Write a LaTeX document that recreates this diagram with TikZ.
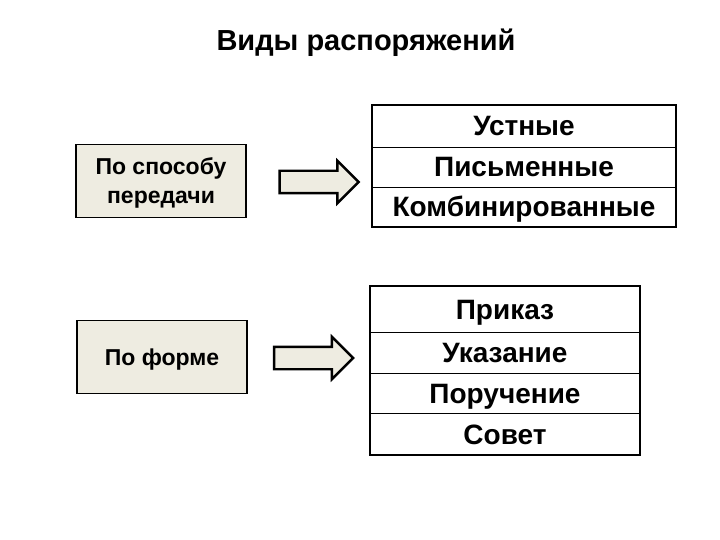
\documentclass[tikz,border=0pt]{standalone}
\usepackage{fontspec}
\setmainfont{Liberation Sans}
\usetikzlibrary{positioning,shapes.arrows}
\definecolor{beige}{RGB}{238,236,225}

\begin{document}
\begin{tikzpicture}[x=1pt, y=-1pt, node distance=0pt,
  every node/.style={align=center, outer sep=0pt},
  kind/.style={draw, line width=1.6pt, fill=beige, minimum width=170pt, minimum height=73pt, text height=16.5pt, text depth=0pt, font=\bfseries\fontsize{23}{29}\selectfont},
  cell/.style={draw, line width=0.8pt, inner sep=0pt, text height=20pt, text depth=0pt, font=\bfseries\fontsize{28}{32}\selectfont},
  bigarrow/.style={single arrow, draw, line width=2.4pt, fill=beige, inner sep=10pt, minimum height=79pt, single arrow head extend=10pt}]

\useasboundingbox (0,0) rectangle (720,540);

% Title
\node[font=\bfseries\fontsize{29}{34}\selectfont] (title) at (366,43) {Виды распоряжений};

% Left boxes
\node[kind, text height=45.5pt] (way) at (161,181) {По способу\\передачи};
\node[kind] (form) at (162,357) {По форме};

% Block arrows
\node[bigarrow] (arr1) at (313.5,182) {};
\node[bigarrow] (arr2) at (308,358) {};

% First table: rows stacked below one another
\node[cell, minimum width=304pt, minimum height=42pt] (oral) at (524,126) {Устные};
\node[cell, minimum width=304pt, minimum height=40pt, below=of oral] (written) {Письменные};
\node[cell, minimum width=304pt, minimum height=40pt, below=of written] (mixed) {Комбинированные};
\draw[line width=1.6pt] (oral.north west) rectangle (mixed.south east);

% Second table
\node[cell, minimum width=270pt, minimum height=46pt] (order) at (505,309) {Приказ};
\node[cell, minimum width=270pt, minimum height=41pt, below=of order] (instr) {Указание};
\node[cell, minimum width=270pt, minimum height=40pt, below=of instr] (task) {Поручение};
\node[cell, minimum width=270pt, minimum height=42pt, below=of task] (advice) {Совет};
\draw[line width=1.6pt] (order.north west) rectangle (advice.south east);
\end{tikzpicture}
\end{document}
